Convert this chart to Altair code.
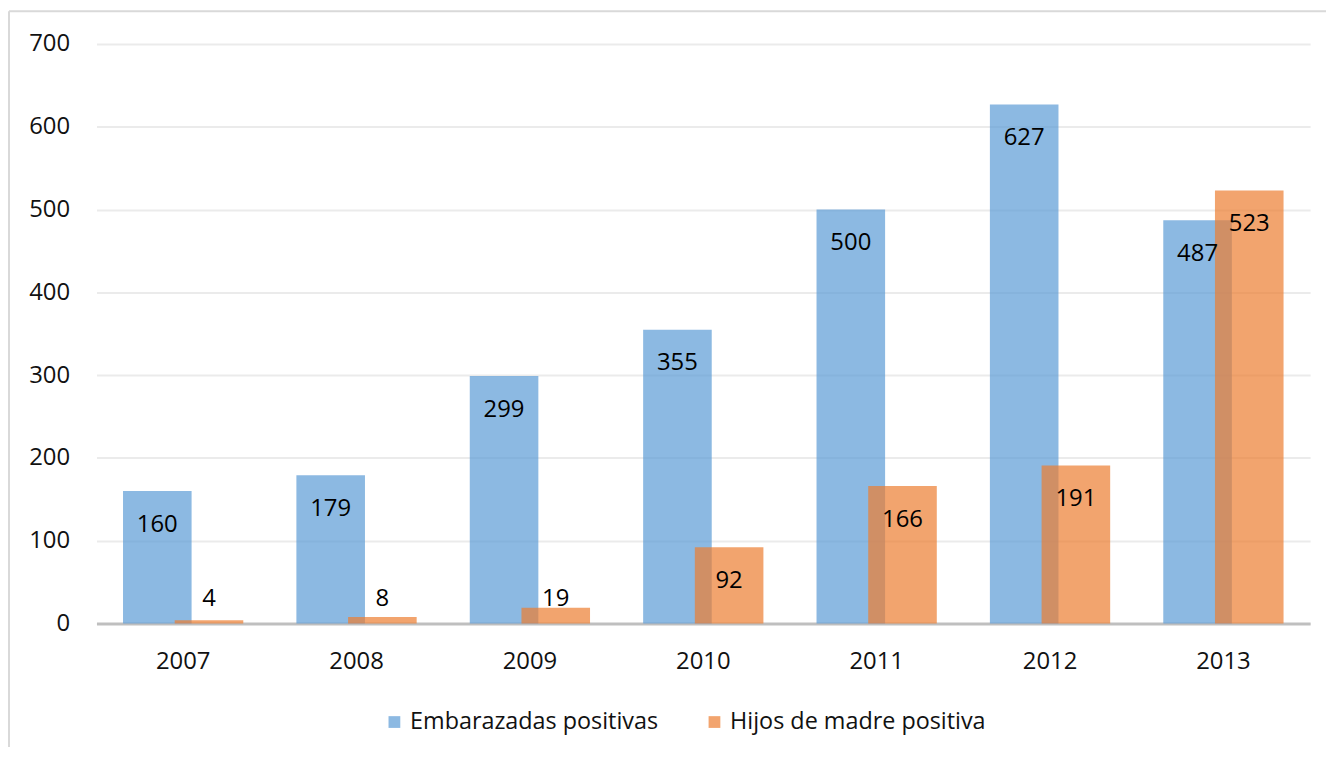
import altair as alt
import pandas as pd

years = ["2007", "2008", "2009", "2010", "2011", "2012", "2013"]
embarazadas = [160, 179, 299, 355, 500, 627, 487]
hijos = [4, 8, 19, 92, 166, 191, 523]
series = ["Embarazadas positivas", "Hijos de madre positiva"]
y_ticks = [0, 100, 200, 300, 400, 500, 600, 700]

rows = []
for y, v in zip(years, embarazadas):
    rows.append({"year": y, "serie": series[0], "value": v})
for y, v in zip(years, hijos):
    rows.append({"year": y, "serie": series[1], "value": v})
df = pd.DataFrame(rows)

FONT = "Open Sans"
FS = 24

x_enc = alt.X("year:N", sort=years, title=None,
              scale=alt.Scale(paddingInner=0, paddingOuter=0),
              axis=alt.Axis(labelAngle=0, labelFont=FONT, labelFontSize=FS,
                            labelColor="#111111", ticks=False, tickSize=0,
                            labelPadding=26, domainColor="#BFBFBF",
                            domainWidth=3, grid=False))
y_enc = alt.Y("value:Q", title=None,
              scale=alt.Scale(domain=[0, 700], nice=False, zero=True),
              axis=alt.Axis(values=y_ticks, labelFont=FONT, labelFontSize=FS,
                            labelColor="#111111", ticks=False, tickSize=0,
                            labelPadding=27, domain=False, grid=True,
                            gridColor="#EBEBEB", gridWidth=2))

color_enc = alt.Color("serie:N",
                      scale=alt.Scale(domain=series, range=["#5B9BD5", "#ED7D31"]),
                      legend=alt.Legend(title=None, orient="none", direction="horizontal",
                                        legendX=288, legendY=670,
                                        symbolType="square", symbolSize=140,
                                        symbolOpacity=0.7, symbolStrokeWidth=0,
                                        labelFont=FONT, labelFontSize=23.5,
                                        labelColor="#111111", labelOffset=4,
                                        labelLimit=0,
                                        columnPadding=44, padding=0))

base = alt.Chart(df)

blue_bars = base.transform_filter(alt.datum.serie == series[0]).mark_bar(
    width=69, xOffset=-26, opacity=0.7).encode(x=x_enc, y=y_enc, color=color_enc)
orange_bars = base.transform_filter(alt.datum.serie == series[1]).mark_bar(
    width=69, xOffset=26, opacity=0.7).encode(x=x_enc, y=y_enc, color=color_enc)

label_base = base.transform_calculate(
    labelpos="max(datum.value - 37.2, 33.6)")
blue_text = label_base.transform_filter(alt.datum.serie == series[0]).mark_text(
    dx=-26, dy=3, font=FONT, fontSize=FS, color="#000000", baseline="middle", align="center"
).encode(x=alt.X("year:N", sort=years), y=alt.Y("labelpos:Q"), text="value:Q")
orange_text = label_base.transform_filter(alt.datum.serie == series[1]).mark_text(
    dx=26, dy=3, font=FONT, fontSize=FS, color="#000000", baseline="middle", align="center"
).encode(x=alt.X("year:N", sort=years), y=alt.Y("labelpos:Q"), text="value:Q")

one = alt.Chart(pd.DataFrame({"a": [0]}))
frame_left = one.mark_rule(color="#D9D9D9", strokeWidth=2).encode(
    x=alt.value(-88), y=alt.value(-33), y2=alt.value(900))
frame_top = one.mark_rule(color="#D9D9D9", strokeWidth=2).encode(
    x=alt.value(-88), x2=alt.value(1300), y=alt.value(-33))

chart = alt.layer(blue_bars, orange_bars, blue_text, orange_text, frame_left, frame_top).properties(
    width=1221, height=583,
    autosize=alt.AutoSizeParams(type="none"),
    padding={"left": 89, "top": 34, "right": 16, "bottom": 122},
).configure(background="white").configure_view(stroke=None)

chart.save("out.html", embed_options={"renderer": "svg", "actions": False})
